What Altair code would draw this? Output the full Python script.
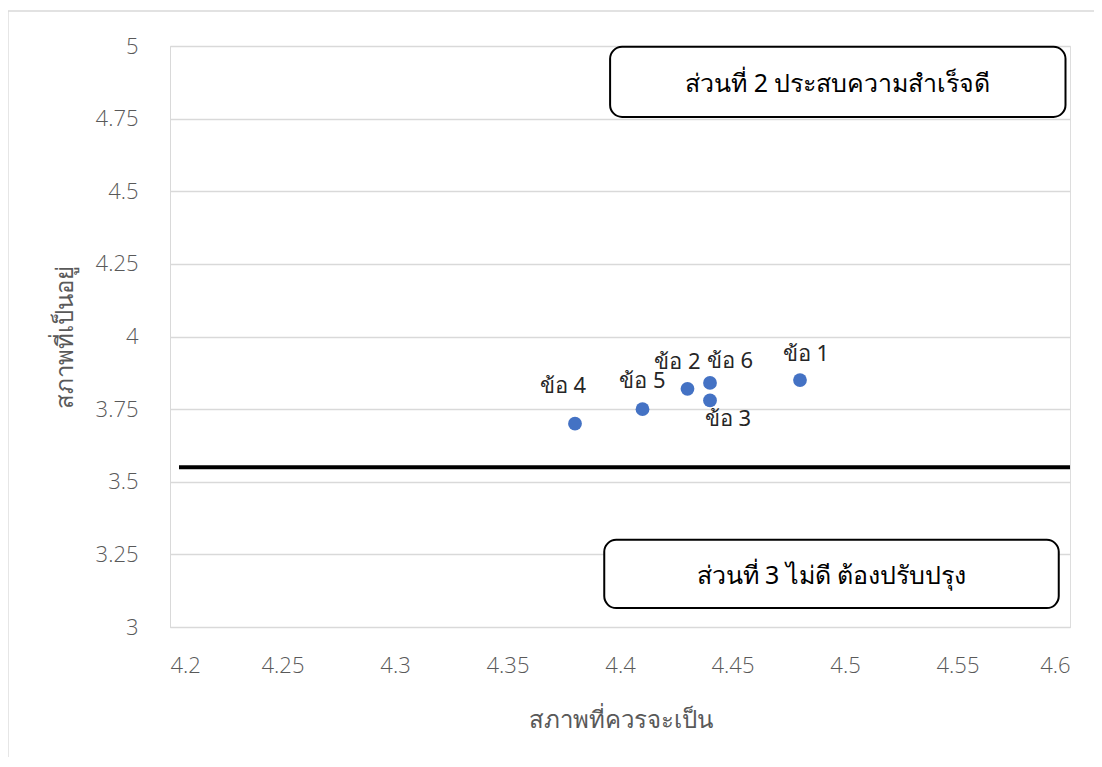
import altair as alt
import pandas as pd

# Data
labels = ["ข้อ 1", "ข้อ 2", "ข้อ 3", "ข้อ 4", "ข้อ 5", "ข้อ 6"]
x_vals = [4.48, 4.43, 4.44, 4.38, 4.41, 4.44]
y_vals = [3.85, 3.82, 3.78, 3.70, 3.75, 3.84]

x_ticks = [4.2, 4.25, 4.3, 4.35, 4.4, 4.45, 4.5, 4.55, 4.6]
y_ticks = [3, 3.25, 3.5, 3.75, 4, 4.25, 4.5, 4.75, 5]

divider_x = [4.204, 4.6]
divider_y = 3.55

box_texts = ["ส่วนที่ 2 ประสบความสำเร็จดี", "ส่วนที่ 3 ไม่ดี ต้องปรับปรุง"]
box_x1 = [4.3956, 4.393]
box_x2 = [4.598, 4.595]
box_y1 = [4.756, 3.065]
box_y2 = [4.997, 3.30]

# label offsets (pixels) per point
label_dx = [6, -10, 18, -12, 0, 20]
label_dy = [-26, -27, 19, -38, -28, -22]

NUM_FONT = "Open Sans"
THAI_FONT = "Noto Sans"

df = pd.DataFrame({"label": labels, "x": x_vals, "y": y_vals})
line_df = pd.DataFrame({"x": [divider_x[0]], "x2": [divider_x[1]], "y": [divider_y]})
box_df = pd.DataFrame({"text": box_texts, "x1": box_x1, "x2": box_x2, "y1": box_y1, "y2": box_y2})
box_df["xc"] = (box_df["x1"] + box_df["x2"]) / 2
box_df["yc"] = (box_df["y1"] + box_df["y2"]) / 2

xscale = alt.Scale(domain=[4.2, 4.6], nice=False, zero=False)
yscale = alt.Scale(domain=[3, 5], nice=False, zero=False)

xaxis = alt.Axis(values=x_ticks, title="สภาพที่ควรจะเป็น", grid=False, ticks=False,
                 domain=True, domainColor="#d9d9d9", labelFontSize=22, labelColor="#595959",
                 labelFont=NUM_FONT, labelFontWeight=300, labelPadding=28, titleFont=THAI_FONT,
                 titleFontSize=24, titleColor="#595959", titleFontWeight="normal", titlePadding=32,
                 labelExpr="'' + datum.value")
yaxis = alt.Axis(values=y_ticks, title="สภาพที่เป็นอยู่", grid=True, gridColor="#d9d9d9",
                 gridWidth=1.3, ticks=False, domain=True, domainColor="#d9d9d9",
                 labelFontSize=22, labelColor="#595959", labelFont=NUM_FONT, labelFontWeight=300,
                 labelPadding=32, labelExpr="'' + datum.value",
                 titleFont=THAI_FONT, titleFontSize=24, titleColor="#595959",
                 titleFontWeight="normal", titlePadding=18)

border = alt.Chart(pd.DataFrame({"a": [0]})).mark_rect(
    fill=None, stroke="#d9d9d9", strokeWidth=1.3
).encode(x=alt.value(-162), x2=alt.value(960), y=alt.value(-35), y2=alt.value(760))

points = alt.Chart(df).mark_circle(size=190, opacity=1, color="#4472C4").encode(
    x=alt.X("x:Q", scale=xscale, axis=xaxis),
    y=alt.Y("y:Q", scale=yscale, axis=yaxis),
)

label_layers = []
for i, lab in enumerate(labels):
    label_layers.append(
        alt.Chart(df).transform_filter(alt.datum.label == lab).mark_text(
            font=THAI_FONT, fontSize=22, color="#262626",
            dx=label_dx[i], dy=label_dy[i]
        ).encode(x=alt.X("x:Q", scale=xscale), y=alt.Y("y:Q", scale=yscale), text="label:N")
    )

divider = alt.Chart(line_df).mark_rule(color="black", strokeWidth=4).encode(
    x=alt.X("x:Q", scale=xscale), x2="x2:Q", y=alt.Y("y:Q", scale=yscale)
)

boxes = alt.Chart(box_df).mark_rect(
    fill="white", stroke="black", strokeWidth=2, cornerRadius=12
).encode(
    x=alt.X("x1:Q", scale=xscale), x2="x2:Q",
    y=alt.Y("y1:Q", scale=yscale), y2="y2:Q",
)

box_text = alt.Chart(box_df).mark_text(
    font=THAI_FONT, fontSize=25, color="black", dy=2
).encode(x=alt.X("xc:Q", scale=xscale), y=alt.Y("yc:Q", scale=yscale), text="text:N")

chart = alt.layer(border, points, *label_layers, divider, boxes, box_text).properties(
    width=900, height=581,
    autosize="none",
    padding={"left": 162, "top": 38, "right": 24, "bottom": 130},
).configure_view(stroke=None).configure(background="white")

chart.save("out.html", embed_options={"renderer": "svg", "actions": False})
